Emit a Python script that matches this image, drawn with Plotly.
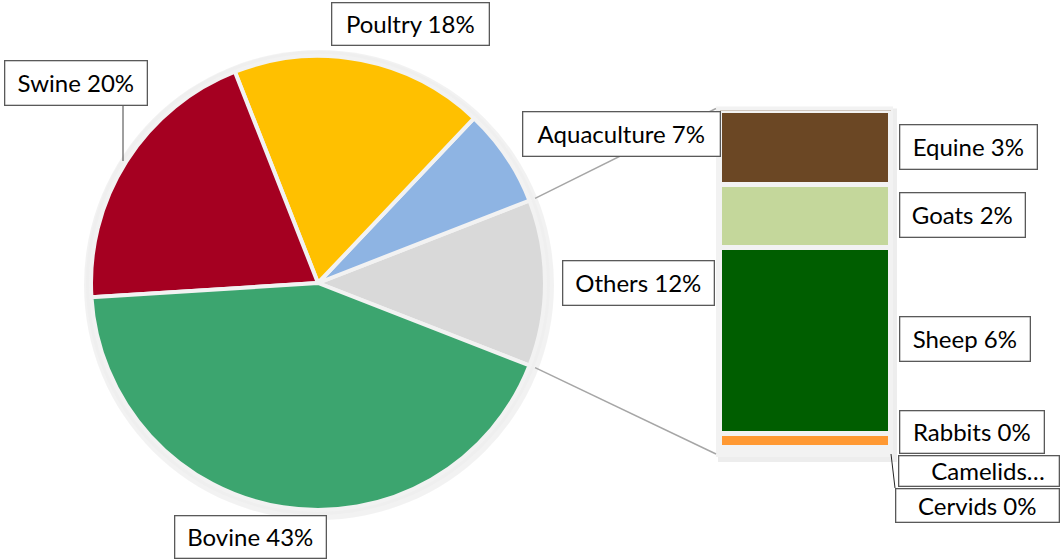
import math
import plotly.graph_objects as go

# ---------------- data ----------------
main_labels = ["Aquaculture", "Poultry", "Swine", "Bovine"]
main_values = [7.0, 18.0, 20.0, 43.0]
main_colors = ["#8EB4E3", "#FFC000", "#A50021", "#3CA56F"]

other_labels = ["Equine", "Goats", "Sheep", "Rabbits", "Camelids", "Cervids"]
other_values = [2.56, 2.17, 6.40, 0.49, 0.11, 0.09]
other_colors = ["#6B4724", "#C4D79B", "#005E00", "#FF9933", "#C0504D", "#7F7F7F"]
others_name = "Others"
others_color = "#D9D9D9"

# ---------------- layout constants ----------------
W, H = 1064, 560
CX, CY, R = 318, 283, 227          # pie centre / radius in px
BAR_X0, BAR_X1 = 720, 891          # bar column in px
BAR_TOP, BAR_BOT = 110.5, 453      # bar extent in px
FONT = "Lato, 'Open Sans', sans-serif"

others_total = sum(other_values)
total = sum(main_values) + others_total

pie_labels = [others_name] + main_labels
pie_values = [others_total] + main_values
pie_colors = [others_color] + main_colors

others_angle = others_total / total * 360.0


def px(x):
    return x / W


def py(y):
    return 1 - y / H


def pct(v):
    return f"{round(v / total * 100):.0f}%"


fig = go.Figure()

# outer ring / shadow of the pie
fig.add_shape(type="circle", xref="paper", yref="paper",
              x0=px(CX - R - 7), x1=px(CX + R + 9), y0=py(CY + R + 10), y1=py(CY - R - 6),
              fillcolor="rgba(0,0,0,0.05)", line=dict(width=0), layer="below")
fig.add_shape(type="circle", xref="paper", yref="paper",
              x0=px(CX - R - 5), x1=px(CX + R + 5), y0=py(CY + R + 5), y1=py(CY - R - 5),
              fillcolor="#EFEFEF", line=dict(width=0), layer="below")

# bar panel with shadow
fig.add_shape(type="rect", xref="paper", yref="paper",
              x0=px(BAR_X0 - 2), x1=px(BAR_X1 + 6), y0=py(BAR_BOT + 9), y1=py(BAR_TOP - 2),
              fillcolor="rgba(0,0,0,0.07)", line=dict(width=0), layer="below")
fig.add_shape(type="rect", xref="paper", yref="paper",
              x0=px(BAR_X0 - 4), x1=px(BAR_X1 + 2), y0=py(BAR_BOT + 4), y1=py(BAR_TOP - 4),
              fillcolor="#F2F2F2", line=dict(width=0), layer="below")

fig.add_trace(go.Pie(
    labels=pie_labels, values=pie_values, sort=False,
    direction="counterclockwise", rotation=90 - others_angle / 2,
    marker=dict(colors=pie_colors, line=dict(color="#F2F2F2", width=4)),
    textinfo="none", hoverinfo="label+percent", showlegend=False,
    domain=dict(x=[px(CX - R), px(CX + R)], y=[py(CY + R), py(CY - R)]),
))

# stacked bar (bottom first)
for lab, val, col in reversed(list(zip(other_labels, other_values, other_colors))):
    fig.add_trace(go.Bar(
        x=[0], y=[val], name=lab, marker=dict(color=col, line=dict(color="#F2F2F2", width=5)),
        showlegend=False, hoverinfo="name+y", width=1,
    ))

# connector lines from the "Others" slice to the bar
a = math.radians(others_angle / 2)
ex = CX + (R + 6) * math.cos(a)
ey_top = CY - (R + 6) * math.sin(a)
ey_bot = CY + (R + 6) * math.sin(a)
for ey, by in [(ey_top, BAR_TOP - 2), (ey_bot, BAR_BOT + 1)]:
    fig.add_shape(type="line", xref="paper", yref="paper",
                  x0=px(ex), y0=py(ey), x1=px(BAR_X0 - 4), y1=py(by),
                  line=dict(color="#A6A6A6", width=1.5), layer="below")

# leader line for Swine label and for the tiny bar items
fig.add_shape(type="line", xref="paper", yref="paper",
              x0=px(123), x1=px(123), y0=py(106), y1=py(161),
              line=dict(color="#404040", width=1))
fig.add_shape(type="line", xref="paper", yref="paper",
              x0=px(891), x1=px(895), y0=py(454), y1=py(488),
              line=dict(color="#262626", width=1))

# ---------------- labels ----------------
# centre (px) and box size (px) of each label
label_box = {
    "Poultry": (410, 24, 159, 44),
    "Swine": (76, 83, 144, 46),
    "Aquaculture": (621, 134, 199, 46),
    others_name: (638, 283, 153, 46),
    "Bovine": (250, 537, 153, 44),
    "Equine": (968, 147, 139, 46),
    "Goats": (962, 215, 127, 46),
    "Sheep": (965, 339, 132, 46),
    "Rabbits": (972, 432, 146, 44),
    "Camelids": (979, 471, 162, 32),
    "Cervids": (977, 505, 165, 35),
}

texts = {lab: f"{lab} {pct(v)}" for lab, v in zip(pie_labels, pie_values)}
texts.update({lab: f"{lab} {pct(v)}" for lab, v in zip(other_labels, other_values)})
texts["Camelids"] = "   Camelids…"

for lab, (x, y, bw, bh) in label_box.items():
    pad = 1
    fig.add_annotation(
        x=px(x), y=py(y), xref="paper", yref="paper", text=texts[lab], showarrow=False,
        font=dict(family=FONT, size=24, color="#000000"),
        bgcolor="#FFFFFF", bordercolor="#595959", borderwidth=1.3,
        borderpad=pad, xanchor="center", yanchor="middle",
        width=bw - 2 * pad - 3, height=bh - 2 * pad - 3, align="center", valign="middle",
    )

fig.update_layout(
    width=W, height=H, margin=dict(l=0, r=0, t=0, b=0),
    paper_bgcolor="#FFFFFF", plot_bgcolor="rgba(0,0,0,0)",
    barmode="stack", bargap=0,
    xaxis=dict(domain=[px(BAR_X0), px(BAR_X1)], range=[-0.5, 0.5], visible=False, fixedrange=True),
    yaxis=dict(domain=[py(BAR_BOT), py(BAR_TOP)], range=[0, others_total], visible=False, fixedrange=True),
    font=dict(family=FONT),
)

fig.write_html("out.html", config={"displayModeBar": False},
               post_script="document.body.style.margin='0';document.body.style.overflow='hidden';")
